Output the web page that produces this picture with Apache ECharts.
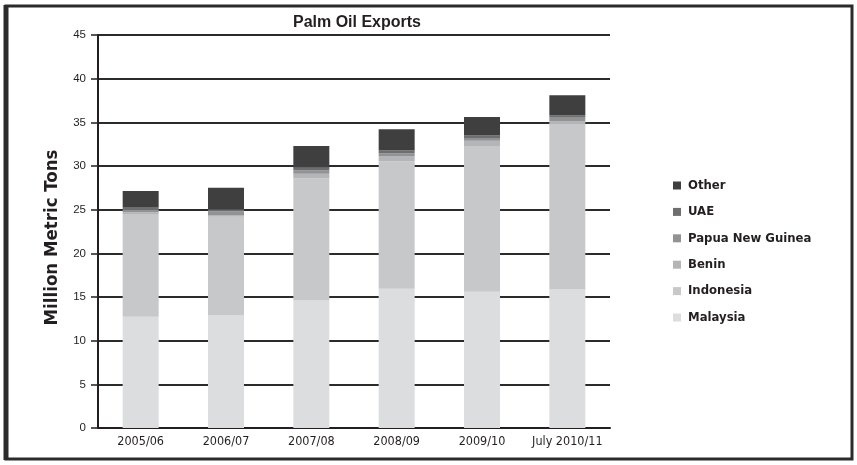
<!DOCTYPE html>
<html>
<head>
<meta charset="utf-8">
<script src="https://cdn.jsdelivr.net/npm/echarts@6/dist/echarts.min.js"></script>
<style>
  html, body { margin: 0; padding: 0; background: #fff; }
  #chart { width: 857px; height: 465px; }
</style>
</head>
<body>
<div id="chart"></div>
<script>
// Marketing years on the category axis
var years = ['2005/06', '2006/07', '2007/08', '2008/09', '2009/10', 'July 2010/11'];

// Exports by origin, million metric tons
var malaysia  = [12.75, 12.9, 14.6, 15.95, 15.6, 15.85];
var indonesia = [11.75, 11.3, 14.0, 14.6, 16.7, 18.95];
var benin     = [0.2, 0.2, 0.5, 0.55, 0.6, 0.3];
var papuaNewGuinea = [0.25, 0.4, 0.4, 0.35, 0.3, 0.5];
var uae       = [0.35, 0.25, 0.3, 0.35, 0.3, 0.2];
var other     = [1.85, 2.45, 2.5, 2.4, 2.1, 2.3];

var yTicks = { min: 0, max: 45, interval: 5 };

var seriesDefs = [
  { name: 'Malaysia', data: malaysia, color: '#dcdddf' },
  { name: 'Indonesia', data: indonesia, color: '#c7c8ca' },
  { name: 'Benin', data: benin, color: '#b4b5b7' },
  { name: 'Papua New Guinea', data: papuaNewGuinea, color: '#919294' },
  { name: 'UAE', data: uae, color: '#6d6e70' },
  { name: 'Other', data: other, color: '#3f3f3f' }
];

var narrow = '"DejaVu Sans Condensed", "Liberation Sans Narrow", "Open Sans", sans-serif';

var chart = echarts.init(document.getElementById('chart'), null, { renderer: 'canvas' });

chart.setOption({
  animation: false,
  backgroundColor: '#ffffff',
  title: {
    text: 'Palm Oil Exports',
    left: 352,
    textAlign: 'center',
    top: 10,
    textStyle: { fontFamily: 'Liberation Sans, Arial, sans-serif', fontSize: 16, fontWeight: 'bold', color: '#231f20' }
  },
  legend: {
    orient: 'vertical',
    left: 668,
    top: 173,
    itemWidth: 8,
    itemHeight: 8,
    itemGap: 11.4,
    icon: 'rect',
    data: ['Other', 'UAE', 'Papua New Guinea', 'Benin', 'Indonesia', 'Malaysia'],
    textStyle: { fontFamily: narrow, fontSize: 13, lineHeight: 15, fontWeight: 'bold', color: '#231f20', padding: [0, 0, 0, 2] }
  },
  grid: { left: 98, right: 247, top: 35, bottom: 37, containLabel: false },
  xAxis: {
    type: 'category',
    data: years,
    axisLine: { show: true, lineStyle: { color: '#231f20', width: 2 } },
    axisTick: { show: false },
    axisLabel: { interval: 0, fontFamily: narrow, fontSize: 12.5, color: '#231f20', margin: 7 }
  },
  yAxis: {
    type: 'value',
    min: yTicks.min,
    max: yTicks.max,
    interval: yTicks.interval,
    name: 'Million Metric Tons',
    nameLocation: 'middle',
    nameGap: 36,
    nameTextStyle: { fontFamily: narrow, fontSize: 18.5, fontWeight: 'bold', color: '#231f20', padding: [0, 12, 0, 0] },
    axisLine: { show: true, lineStyle: { color: '#231f20', width: 2 } },
    axisTick: { show: true, length: 7, lineStyle: { color: '#231f20', width: 1.5 } },
    axisLabel: { fontFamily: 'Liberation Sans, Arial, sans-serif', fontSize: 11.5, color: '#231f20', margin: 12 },
    splitLine: { show: true, lineStyle: { color: '#2b2b2b', width: 2 } }
  },
  series: seriesDefs.map(function (s) {
    return {
      name: s.name,
      type: 'bar',
      stack: 'exports',
      barWidth: 36,
      data: s.data,
      itemStyle: { color: s.color },
      z: 3
    };
  }),
  graphic: [
    { type: 'rect', shape: { x: 6, y: 6, width: 846, height: 453 }, style: { fill: 'none', stroke: '#2b2b2b', lineWidth: 3 }, silent: true },
    { type: 'line', shape: { x1: 6, y1: 5, x2: 6, y2: 460 }, style: { stroke: '#2b2b2b', lineWidth: 5 }, silent: true }
  ]
});
</script>
</body>
</html>
